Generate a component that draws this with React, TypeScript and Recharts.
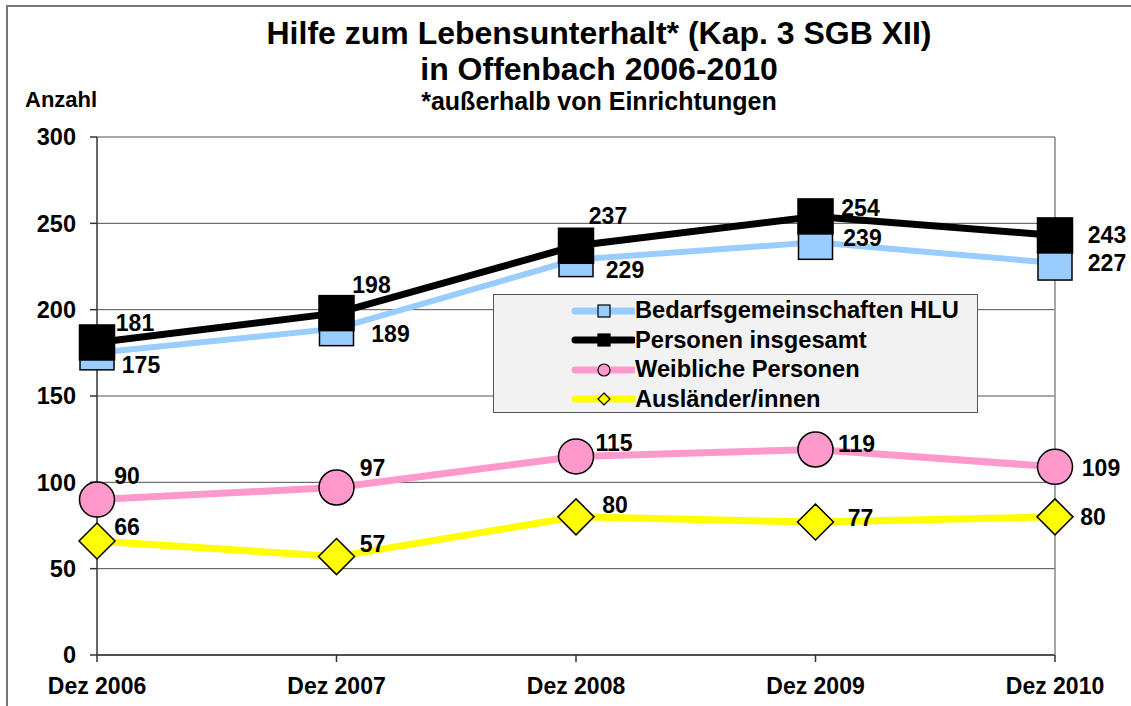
import React from "react"
import { LineChart, Line, XAxis, YAxis, CartesianGrid, Legend } from "recharts"

const categories = ["Dez 2006", "Dez 2007", "Dez 2008", "Dez 2009", "Dez 2010"]
const bedarfsgemeinschaften = [175, 189, 229, 239, 227]
const personenInsgesamt = [181, 198, 237, 254, 243]
const weiblichePersonen = [90, 97, 115, 119, 109]
const auslaender = [66, 57, 80, 77, 80]
const yTicks = [0, 50, 100, 150, 200, 250, 300]

const data = categories.map((name, i) => ({
  name,
  hlu: bedarfsgemeinschaften[i],
  gesamt: personenInsgesamt[i],
  weiblich: weiblichePersonen[i],
  auslaender: auslaender[i],
}))

const FONT = '"Liberation Sans", Arial, sans-serif'
const BLUE = "#99CCFF"
const PINK = "#FF99CC"
const YELLOW = "#FFFF00"

// label offsets relative to the point (dx, dy)
const offsets: Record<string, number[][]> = {
  gesamt: [[38, -19], [35, -28], [32, -30], [45, -8], [52, 0]],
  hlu: [[44, 12], [54, 5], [49, 10], [47, -4], [52, 0]],
  weiblich: [[30, -24], [36, -20], [38, -13], [41, -6], [46, 1]],
  auslaender: [[30, -14], [36, -13], [39, -12], [45, -4], [38, 0]],
}

const makeLabel = (key: string) => (p: any) => {
  const [dx, dy] = offsets[key][p.index] || [30, 0]
  return (
    <text
      key={`${key}-l-${p.index}`}
      x={p.x + dx}
      y={p.y + dy}
      textAnchor="middle"
      dominantBaseline="central"
      fontFamily={FONT}
      fontWeight="bold"
      fontSize={23}
      fill="#000"
    >
      {p.value}
    </text>
  )
}

const squareDot = (fill: string, size: number) => (p: any) => (
  <rect
    key={`sq-${fill}-${p.index}`}
    x={p.cx - size / 2}
    y={p.cy - size / 2}
    width={size}
    height={size}
    fill={fill}
    stroke="#000"
    strokeWidth={1.5}
  />
)

const circleDot = (p: any) => (
  <circle key={`c-${p.index}`} cx={p.cx} cy={p.cy} r={17.5} fill={PINK} stroke="#000" strokeWidth={1.5} />
)

const diamondDot = (p: any) => {
  const s = 18
  return (
    <polygon
      key={`d-${p.index}`}
      points={`${p.cx},${p.cy - s} ${p.cx + s},${p.cy} ${p.cx},${p.cy + s} ${p.cx - s},${p.cy}`}
      fill={YELLOW}
      stroke="#000"
      strokeWidth={1.5}
    />
  )
}

const legendItems = [
  { label: "Bedarfsgemeinschaften HLU", color: BLUE, marker: "square", fill: BLUE },
  { label: "Personen insgesamt", color: "#000", marker: "square", fill: "#000" },
  { label: "Weibliche Personen", color: PINK, marker: "circle", fill: PINK },
  { label: "Ausländer/innen", color: YELLOW, marker: "diamond", fill: YELLOW },
]

const renderLegend = () => (
  <div
    style={{
      width: 485,
      height: 119,
      boxSizing: "border-box",
      background: "#F2F2F2",
      border: "1px solid #555",
      paddingTop: 1,
    }}
  >
    {legendItems.map((it) => (
      <div key={it.label} style={{ display: "flex", alignItems: "center", height: 29.5 }}>
        <svg width={141} height={20} style={{ flex: "none" }}>
          <line x1={81} x2={139} y1={10} y2={10} stroke={it.color} strokeWidth={7} strokeLinecap="round" />
          {it.marker === "square" && (
            <rect x={104} y={4} width={12} height={12} fill={it.fill} stroke="#000" strokeWidth={1.2} />
          )}
          {it.marker === "circle" && <circle cx={110} cy={10} r={6} fill={it.fill} stroke="#000" strokeWidth={1.2} />}
          {it.marker === "diamond" && (
            <polygon points="110,4 116,10 110,16 104,10" fill={it.fill} stroke="#000" strokeWidth={1.2} />
          )}
        </svg>
        <span style={{ fontFamily: FONT, fontWeight: "bold", fontSize: 23.7, color: "#000", whiteSpace: "nowrap" }}>
          {it.label}
        </span>
      </div>
    ))}
  </div>
)

const textStyle: React.CSSProperties = {
  position: "absolute",
  fontFamily: FONT,
  fontWeight: "bold",
  color: "#000",
  whiteSpace: "nowrap",
  lineHeight: 1,
}

export default function App() {
  return (
    <div style={{ position: "absolute", left: 0, top: 0, width: 1131, height: 706, overflow: "hidden", background: "#fff" }}>
      <div
        style={{
          position: "absolute",
          left: 6,
          top: 5,
          width: 1160,
          height: 740,
          border: "2px solid #777",
          boxSizing: "border-box",
        }}
      />
      <div style={{ ...textStyle, left: 0, width: 1198, textAlign: "center", top: 17, fontSize: 32 }}>
        Hilfe zum Lebensunterhalt* (Kap. 3 SGB XII)
      </div>
      <div style={{ ...textStyle, left: 0, width: 1198, textAlign: "center", top: 53, fontSize: 32 }}>
        in Offenbach 2006-2010
      </div>
      <div style={{ ...textStyle, left: 0, width: 1198, textAlign: "center", top: 89, fontSize: 25 }}>
        *außerhalb von Einrichtungen
      </div>
      <div style={{ ...textStyle, left: 25, top: 89, fontSize: 22 }}>Anzahl</div>
      <div style={{ position: "absolute", left: 0, top: 0 }}>
        <LineChart width={1131} height={706} data={data} margin={{ top: 137, right: 0, left: 0, bottom: 0 }}>
          <CartesianGrid vertical={false} stroke="#505050" strokeWidth={1} />
          <XAxis
            dataKey="name"
            height={51}
            padding={{ left: 0, right: 0 }}
            axisLine={{ stroke: "#333", strokeWidth: 1.5 }}
            tickLine={{ stroke: "#333", strokeWidth: 1.5 }}
            tickSize={7}
            tickMargin={16}
            tick={{ fontFamily: FONT, fontWeight: "bold", fontSize: 23, fill: "#000" }}
            interval={0}
          />
          <YAxis
            domain={[0, 300]}
            ticks={yTicks}
            width={97}
            axisLine={{ stroke: "#333", strokeWidth: 1.5 }}
            tickLine={{ stroke: "#333", strokeWidth: 1.5 }}
            tickSize={7}
            tickMargin={14}
            tick={{ fontFamily: FONT, fontWeight: "bold", fontSize: 23.5, fill: "#000" }}
            interval={0}
          />
          <YAxis yAxisId="r" orientation="right" width={76} tick={false} tickLine={false} axisLine={{ stroke: "#888", strokeWidth: 1.5 }} />
          <Legend
            layout="horizontal"
            verticalAlign="middle"
            align="center"
            content={renderLegend}
            wrapperStyle={{ left: 493, top: 294, width: 485, height: 119 }}
          />
          <Line
            dataKey="hlu"
            stroke={BLUE}
            strokeWidth={6}
            dot={squareDot(BLUE, 34)}
            label={makeLabel("hlu")}
            isAnimationActive={false}
          />
          <Line
            dataKey="gesamt"
            stroke="#000"
            strokeWidth={7}
            dot={squareDot("#000", 35)}
            label={makeLabel("gesamt")}
            isAnimationActive={false}
          />
          <Line
            dataKey="weiblich"
            stroke={PINK}
            strokeWidth={7}
            dot={circleDot}
            label={makeLabel("weiblich")}
            isAnimationActive={false}
          />
          <Line
            dataKey="auslaender"
            stroke={YELLOW}
            strokeWidth={7}
            dot={diamondDot}
            label={makeLabel("auslaender")}
            isAnimationActive={false}
          />
        </LineChart>
      </div>
    </div>
  )
}
